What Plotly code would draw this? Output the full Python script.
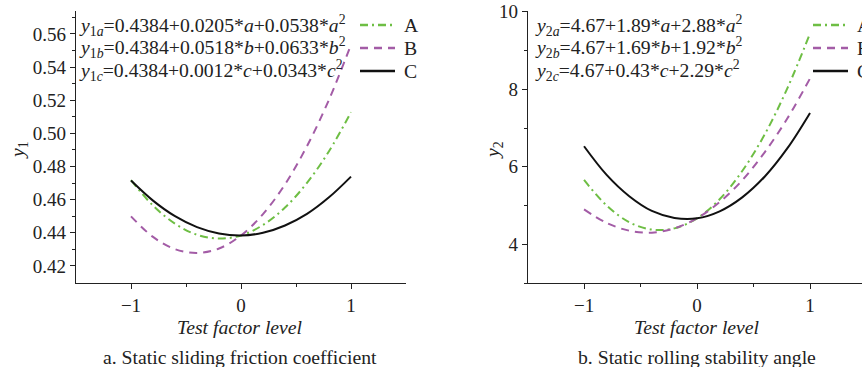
import plotly.graph_objects as go

# ---- data ----
levels = [-1.0, -0.8, -0.6, -0.4, -0.2, 0.0, 0.2, 0.4, 0.6, 0.8, 1.0]

y1_A = [0.4717, 0.4564, 0.4455, 0.4388, 0.4365, 0.4384, 0.4447, 0.4552, 0.4701, 0.4892, 0.5127]
y1_B = [0.4499, 0.4375, 0.4301, 0.4278, 0.4305, 0.4384, 0.4513, 0.4692, 0.4923, 0.5203, 0.5535]
y1_C = [0.4715, 0.4594, 0.4500, 0.4434, 0.4396, 0.4384, 0.4400, 0.4444, 0.4514, 0.4614, 0.4739]

y2_A = [5.66, 5.00, 4.57, 4.38, 4.41, 4.67, 5.16, 5.89, 6.84, 8.03, 9.44]
y2_B = [4.90, 4.55, 4.35, 4.30, 4.41, 4.67, 5.09, 5.65, 6.38, 7.25, 8.28]
y2_C = [6.53, 5.79, 5.24, 4.86, 4.68, 4.67, 4.85, 5.21, 5.75, 6.48, 7.39]

series_names = ["A", "B", "C"]

eq_left = [
    "<i>y</i><sub>1<i>a</i></sub>=0.4384+0.0205*<i>a</i>+0.0538*<i>a</i><sup>2</sup>",
    "<i>y</i><sub>1<i>b</i></sub>=0.4384+0.0518*<i>b</i>+0.0633*<i>b</i><sup>2</sup>",
    "<i>y</i><sub>1<i>c</i></sub>=0.4384+0.0012*<i>c</i>+0.0343*<i>c</i><sup>2</sup>",
]
eq_right = [
    "<i>y</i><sub>2<i>a</i></sub>=4.67+1.89*<i>a</i>+2.88*<i>a</i><sup>2</sup>",
    "<i>y</i><sub>2<i>b</i></sub>=4.67+1.69*<i>b</i>+1.92*<i>b</i><sup>2</sup>",
    "<i>y</i><sub>2<i>c</i></sub>=4.67+0.43*<i>c</i>+2.29*<i>c</i><sup>2</sup>",
]

captions = ["a. Static sliding friction coefficient", "b. Static rolling stability angle"]
x_title = "Test factor level"

# ---- styling ----
FONT = "Liberation Serif"
TXT = "#222222"
colors = ["#6EBE44", "#A35CA6", "#111111"]
dashes = ["8px,4px,2px,4px", "8px,6px", "solid"]

W, H = 862, 367
L1, R1 = 76, 406
L2, R2 = 528, 862
TOP, BOT = 11, 283
ROW0, ROWSTEP = 25, 23

def px(x):
    return x / W

def py(y):
    return 1 - y / H

fig = go.Figure()

left_vals = [y1_A, y1_B, y1_C]
right_vals = [y2_A, y2_B, y2_C]
for i, name in enumerate(series_names):
    fig.add_trace(go.Scatter(
        x=levels, y=left_vals[i], mode="lines", name=name, showlegend=False,
        line=dict(color=colors[i], width=2, dash=dashes[i], shape="spline"),
        xaxis="x", yaxis="y"))
for i, name in enumerate(series_names):
    fig.add_trace(go.Scatter(
        x=levels, y=right_vals[i], mode="lines", name=name, showlegend=False,
        line=dict(color=colors[i], width=2, dash=dashes[i], shape="spline"),
        xaxis="x2", yaxis="y2"))

axis_common = dict(
    showline=True, linecolor="#222222", linewidth=1.3,
    ticks="outside", ticklen=5, tickwidth=1.2, tickcolor="#222222",
    showgrid=False, zeroline=False,
    tickfont=dict(family=FONT, size=19, color=TXT),
)

fig.update_layout(
    width=W, height=H,
    margin=dict(l=0, r=0, t=0, b=0, autoexpand=False),
    plot_bgcolor="white", paper_bgcolor="white",
    font=dict(family=FONT, color=TXT),
    showlegend=False,
    xaxis=dict(domain=[px(L1), px(R1)], range=[-1.5, 1.5], anchor="y",
               tickvals=[-1, 0, 1],
               minor=dict(tickvals=[-0.5, 0.5], ticks="outside", ticklen=3, tickcolor="#222222"),
               **axis_common),
    yaxis=dict(domain=[py(BOT), py(TOP)], range=[0.4097, 0.5738], anchor="x",
               tickvals=[0.42, 0.44, 0.46, 0.48, 0.50, 0.52, 0.54, 0.56],
               ticktext=["0.42", "0.44", "0.46", "0.48", "0.50", "0.52", "0.54", "0.56"],
               minor=dict(tickvals=[0.43, 0.45, 0.47, 0.49, 0.51, 0.53, 0.55, 0.57],
                          ticks="outside", ticklen=3, tickcolor="#222222"),
               **axis_common),
    xaxis2=dict(domain=[px(L2), px(R2)], range=[-1.496, 1.46], anchor="y2",
                tickvals=[-1, 0, 1],
                minor=dict(tickvals=[-0.5, 0.5], ticks="outside", ticklen=3, tickcolor="#222222"),
                **axis_common),
    yaxis2=dict(domain=[py(BOT), py(TOP)], range=[3.0, 10.02], anchor="x2",
                tickvals=[4, 6, 8, 10],
                minor=dict(tickvals=[3, 5, 7, 9], ticks="outside", ticklen=3, tickcolor="#222222"),
                **axis_common),
)

ann = []
shapes = []
for k, t in enumerate(eq_left):
    ann.append(dict(text=t, x=px(77), y=py(ROW0 + ROWSTEP * k), xanchor="left", yanchor="middle"))
for k, t in enumerate(eq_right):
    ann.append(dict(text=t, x=px(533), y=py(ROW0 + ROWSTEP * k), xanchor="left", yanchor="middle"))

# legend keys (left: symbol 360-395, text 402; right: symbol 813-848, text 855)
for (sx0, sx1, tx) in [(360, 395, 402), (813, 848, 855)]:
    for k, name in enumerate(series_names):
        yy = py(ROW0 + ROWSTEP * k)
        shapes.append(dict(type="line", xref="paper", yref="paper",
                           x0=px(sx0), x1=px(sx1), y0=yy, y1=yy,
                           line=dict(color=colors[k], width=2.5, dash=dashes[k])))
        ann.append(dict(text=name, x=px(tx), y=yy, xanchor="left", yanchor="middle"))

ann.append(dict(text="<i>y</i><sub>1</sub>", x=px(18), y=py(150), textangle=-90,
                xanchor="center", yanchor="middle"))
ann.append(dict(text="<i>y</i><sub>2</sub>", x=px(493), y=py(150), textangle=-90,
                xanchor="center", yanchor="middle"))
ann.append(dict(text="<i>" + x_title + "</i>", x=px(240), y=py(327), xanchor="center", yanchor="middle"))
ann.append(dict(text="<i>" + x_title + "</i>", x=px(697), y=py(327), xanchor="center", yanchor="middle"))
ann.append(dict(text=captions[0], x=px(240), y=py(357), xanchor="center", yanchor="middle"))
ann.append(dict(text=captions[1], x=px(697), y=py(357), xanchor="center", yanchor="middle"))

for a in ann:
    a.update(xref="paper", yref="paper", showarrow=False,
             font=dict(family=FONT, size=19.7, color=TXT))
fig.update_layout(annotations=ann, shapes=shapes)

fig.write_html("out.html", config={"displayModeBar": False},
               post_script="document.body.style.margin='0';document.body.style.overflow='hidden';")
